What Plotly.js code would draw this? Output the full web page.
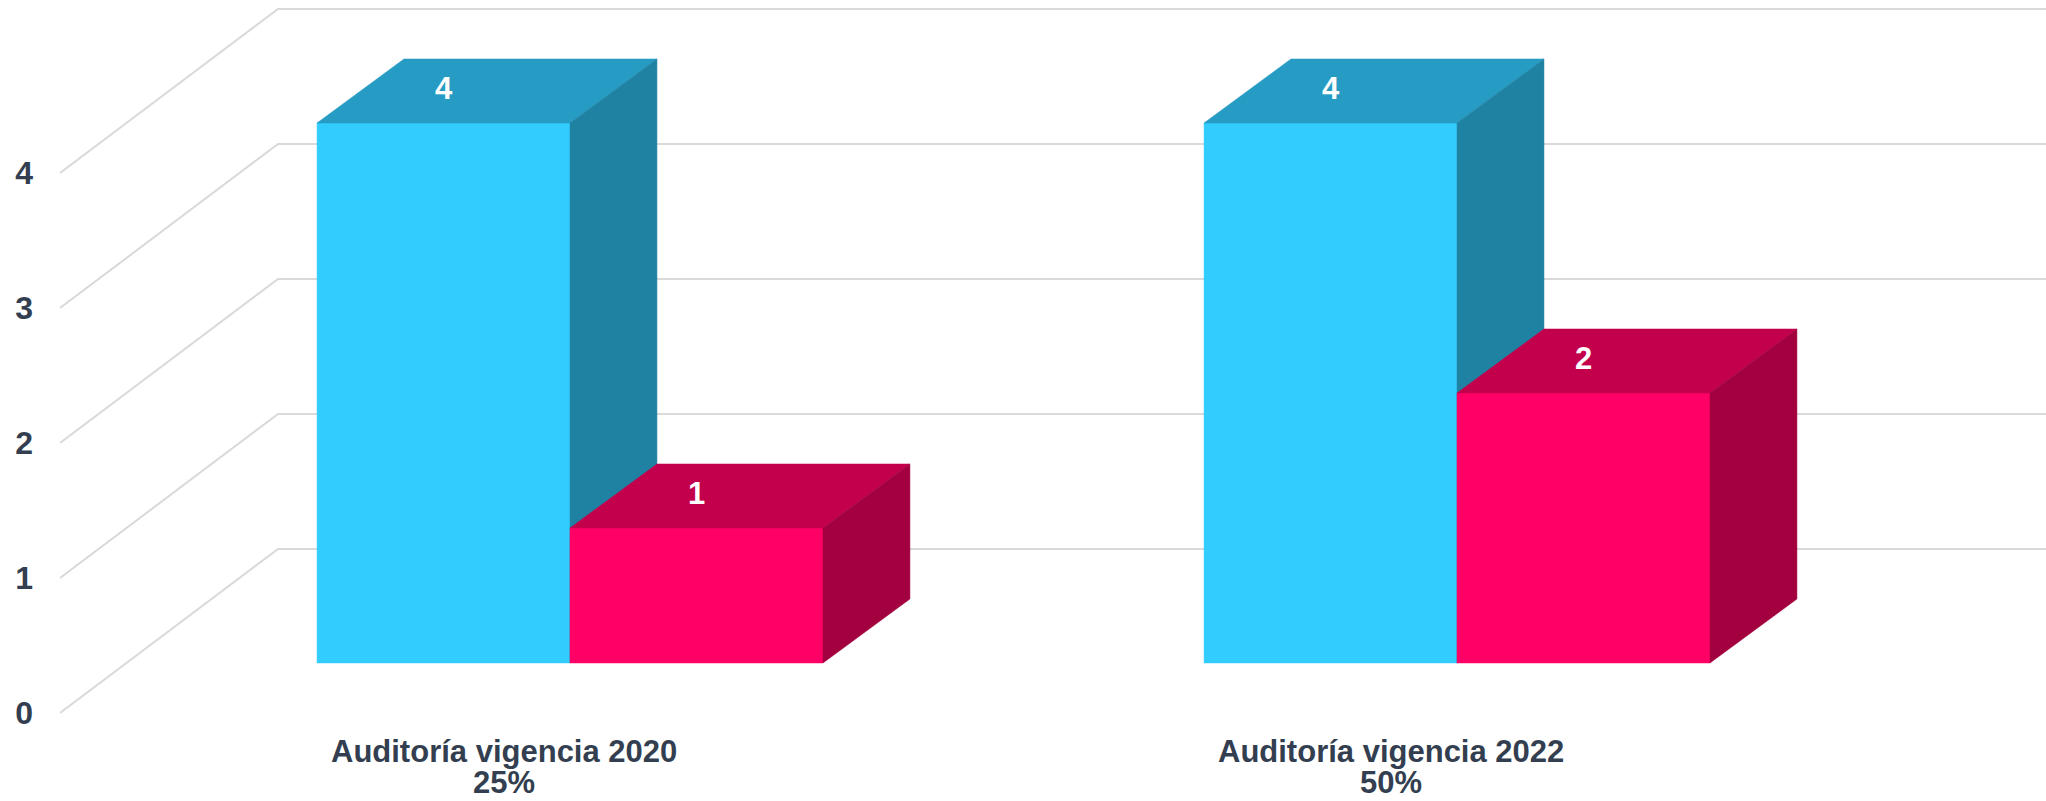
<!DOCTYPE html>
<html>
<head>
<meta charset="utf-8">
<script src="https://cdn.plot.ly/plotly-3.0.1.min.js"></script>
<style>html,body{margin:0;padding:0;background:#fff;}#chart{width:2046px;height:801px;}</style>
</head>
<body>
<div id="chart"></div>
<script>
// ---- data ----
const categories = ['Auditoría vigencia 2020', 'Auditoría vigencia 2022'];
const percents = ['25%', '50%'];
const seriesBlue = [4, 4];
const seriesRed = [1, 2];
const yTicks = [0, 1, 2, 3, 4];

// ---- pseudo-3D geometry (in axis units) ----
const barW = 0.2852;      // bar width in category units
const frontDX = 0.075, frontDY = 0.3706;   // bar front plane offset from depth 0
const depthDX = 0.098, depthDY = 0.474;    // bar depth
const wallDX = 0.2458, wallDY = 1.215;     // back wall offset
const xMin = -0.5, xMax = 1.739;

const blue = {front: '#33ccff', top: '#269bc3', side: '#2082a3'};
const red = {front: '#ff0066', top: '#c2004c', side: '#a3003f'};
const textColor = '#333f50';
const font = 'Liberation Sans, Arial, sans-serif';

const traces = [];

// gridlines: left wall diagonals + back wall horizontals
const gx = [], gy = [];
yTicks.forEach(v => {
  gx.push(xMin, xMin + wallDX, xMax, null);
  gy.push(v, v + wallDY, v + wallDY, null);
});
traces.push({type: 'scatter', mode: 'lines', x: gx, y: gy,
  line: {color: '#d9d9d9', width: 2}, hoverinfo: 'skip'});

function faces(values, leftFn) {
  const f = {front: {x: [], y: []}, top: {x: [], y: []}, side: {x: [], y: []}};
  values.forEach((v, i) => {
    const L = leftFn(i), R = L + barW, b = frontDY, t = frontDY + v;
    f.front.x.push(L, L, R, R, L, null); f.front.y.push(b, t, t, b, b, null);
    f.top.x.push(L, L + depthDX, R + depthDX, R, L, null);
    f.top.y.push(t, t + depthDY, t + depthDY, t, t, null);
    f.side.x.push(R, R, R + depthDX, R + depthDX, R, null);
    f.side.y.push(b, t, t + depthDY, b + depthDY, b, null);
  });
  return f;
}
function pushFaces(f, col) {
  ['front', 'top', 'side'].forEach(k => {
    traces.push({type: 'scatter', mode: 'lines', x: f[k].x, y: f[k].y,
      fill: 'toself', fillcolor: col[k], line: {color: col[k], width: 0.5},
      hoverinfo: 'skip'});
  });
}
const blueLeft = i => i - barW + frontDX;
const redLeft = i => i + frontDX;
pushFaces(faces(seriesBlue, blueLeft), blue);
pushFaces(faces(seriesRed, redLeft), red);

// value labels
function labels(values, leftFn) {
  traces.push({type: 'scatter', mode: 'text',
    x: values.map((v, i) => leftFn(i) + barW / 2),
    y: values.map(v => frontDY + v + depthDY / 2),
    text: values.map(v => String(v)),
    textposition: 'middle center',
    textfont: {family: font, size: 31, color: '#ffffff', weight: 'bold'},
    hoverinfo: 'skip'});
}
labels(seriesBlue, blueLeft);
labels(seriesRed, redLeft);

// category labels
const annotations = [];
categories.forEach((c, i) => {
  annotations.push({x: i, y: -0.0148, xref: 'x', yref: 'paper', text: c, showarrow: false,
    xanchor: 'center', yanchor: 'middle',
    font: {family: font, size: 31, color: textColor, weight: 'bold'}});
  annotations.push({x: i, y: -0.0555, xref: 'x', yref: 'paper', text: percents[i], showarrow: false,
    xanchor: 'center', yanchor: 'middle',
    font: {family: font, size: 31, color: textColor, weight: 'bold'}});
});

const layout = {
  width: 2046, height: 801,
  margin: {l: 60, r: 0, t: 0, b: 60, pad: 0},
  paper_bgcolor: '#ffffff', plot_bgcolor: '#ffffff',
  showlegend: false,
  xaxis: {range: [xMin, xMax], showgrid: false, zeroline: false, showticklabels: false,
    showline: false, fixedrange: true},
  yaxis: {range: [-0.2074, 5.2815], showgrid: false, zeroline: false, showline: false,
    tickvals: yTicks, ticktext: yTicks.map(String), ticks: '', ticklabelstandoff: 26,
    tickfont: {family: font, size: 32, color: textColor, weight: 'bold'}, fixedrange: true},
  annotations: annotations
};

Plotly.newPlot('chart', traces, layout, {displayModeBar: false, staticPlot: true});
</script>
</body>
</html>
